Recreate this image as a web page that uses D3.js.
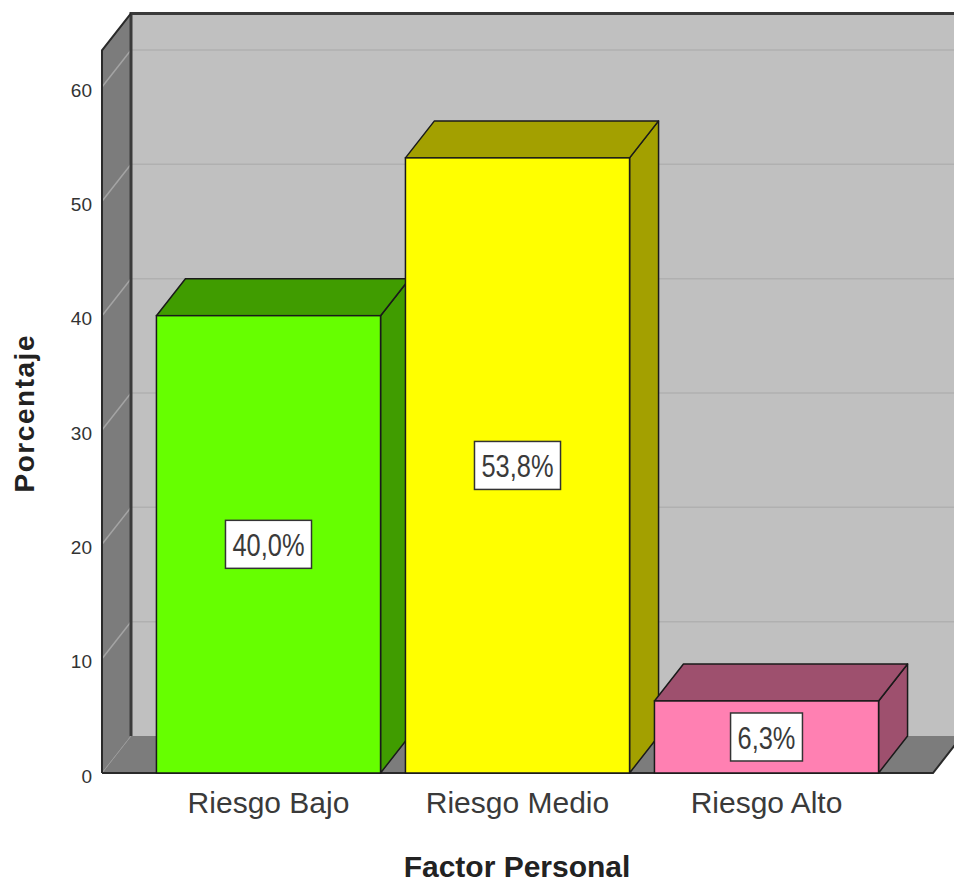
<!DOCTYPE html>
<html>
<head>
<meta charset="utf-8">
<script src="https://cdn.jsdelivr.net/npm/d3@7"></script>
<style>
  html, body { margin: 0; padding: 0; background: #ffffff; }
  svg { display: block; }
  text { font-family: "Liberation Sans", Arial, sans-serif; }
</style>
</head>
<body>
<svg id="chart" width="954" height="882"></svg>
<script>
// ---- data ----
const categories = ["Riesgo Bajo", "Riesgo Medio", "Riesgo Alto"];
const values = [40.0, 53.8, 6.3];
const valueLabels = ["40,0%", "53,8%", "6,3%"];
const yTicks = [0, 10, 20, 30, 40, 50, 60];
const yAxisTop = 63.2;
const frontColors = ["#66ff00", "#ffff00", "#ff80b2"];
const shadeColors = ["#409c00", "#a3a000", "#9e506e"];
const xTitle = "Factor Personal";
const yTitle = "Porcentaje";

// ---- layout ----
const svg = d3.select("#chart");
const depth = { dx: 29, dy: -37 };
const x = d3.scaleBand().domain(categories).range([102, 933]).paddingInner(0.1).paddingOuter(0.2186);
const y = d3.scaleLinear().domain([0, 60]).range([773, 87]);
const x0 = 102, x1 = 933;
const yBase = y(0), yTop = y(yAxisTop);
const line = d3.line();

// back wall
svg.append("path")
  .attr("d", line([[x0 + depth.dx, yTop + depth.dy], [x1 + depth.dx, yTop + depth.dy], [x1 + depth.dx, yBase + depth.dy], [x0 + depth.dx, yBase + depth.dy]]) + "Z")
  .attr("fill", "#c0c0c0");
// side wall
svg.append("path")
  .attr("d", line([[x0, yBase], [x0, yTop], [x0 + depth.dx, yTop + depth.dy], [x0 + depth.dx, yBase + depth.dy]]) + "Z")
  .attr("fill", "#7c7c7c");
// floor
svg.append("path")
  .attr("d", line([[x0, yBase], [x1, yBase], [x1 + depth.dx, yBase + depth.dy], [x0 + depth.dx, yBase + depth.dy]]) + "Z")
  .attr("fill", "#7c7c7c");

// gridlines
const grid = yTicks.filter(t => t > 0);
svg.append("g").selectAll("line").data(grid).join("line")
  .attr("x1", x0 + depth.dx).attr("x2", x1 + depth.dx)
  .attr("y1", d => y(d) + depth.dy).attr("y2", d => y(d) + depth.dy)
  .attr("stroke", "#b0b0b0").attr("stroke-width", 1.5);
svg.append("g").selectAll("line").data(grid).join("line")
  .attr("x1", x0).attr("x2", x0 + depth.dx)
  .attr("y1", d => y(d)).attr("y2", d => y(d) + depth.dy)
  .attr("stroke", "#a4a4a4").attr("stroke-width", 1.5);
// side/floor joint
svg.append("line")
  .attr("x1", x0).attr("y1", yBase).attr("x2", x0 + depth.dx).attr("y2", yBase + depth.dy)
  .attr("stroke", "#999").attr("stroke-width", 1);

// wall edges
svg.append("path")
  .attr("d", line([[x0 + depth.dx, yBase + depth.dy], [x0 + depth.dx, yTop + depth.dy], [x1 + depth.dx + 20, yTop + depth.dy]]))
  .attr("fill", "none").attr("stroke", "#3a3a3a").attr("stroke-width", 3);
svg.append("path")
  .attr("d", line([[x0, yBase], [x0, yTop], [x0 + depth.dx, yTop + depth.dy]]))
  .attr("fill", "none").attr("stroke", "#2a2a2a").attr("stroke-width", 2);
svg.append("path")
  .attr("d", line([[x0, yBase], [x1, yBase], [x1 + depth.dx, yBase + depth.dy]]))
  .attr("fill", "none").attr("stroke", "#2a2a2a").attr("stroke-width", 2);

// bars
const bars = svg.append("g");
categories.forEach((c, i) => {
  const bx = x(c), bw = x.bandwidth(), by = y(values[i]);
  const g = bars.append("g");
  const st = { stroke: "#1a1a1a", w: 1.5 };
  g.append("path")
    .attr("d", line([[bx + bw, yBase], [bx + bw + depth.dx, yBase + depth.dy], [bx + bw + depth.dx, by + depth.dy], [bx + bw, by]]) + "Z")
    .attr("fill", shadeColors[i]).attr("stroke", st.stroke).attr("stroke-width", st.w).attr("stroke-linejoin", "round");
  g.append("path")
    .attr("d", line([[bx, by], [bx + depth.dx, by + depth.dy], [bx + bw + depth.dx, by + depth.dy], [bx + bw, by]]) + "Z")
    .attr("fill", shadeColors[i]).attr("stroke", st.stroke).attr("stroke-width", st.w).attr("stroke-linejoin", "round");
  g.append("rect")
    .attr("x", bx).attr("y", by).attr("width", bw).attr("height", yBase - by)
    .attr("fill", frontColors[i]).attr("stroke", st.stroke).attr("stroke-width", st.w);

  // value label
  const cx = bx + bw / 2, cy = (by + yBase) / 2;
  const sx = 0.82;
  const lg = g.append("g");
  const rect = lg.append("rect");
  const t = lg.append("text")
    .attr("x", cx).attr("y", cy + 1)
    .attr("text-anchor", "middle").attr("dominant-baseline", "central")
    .attr("font-size", 31).attr("fill", "#3a3a3a")
    .attr("transform", `translate(${cx},0) scale(${sx},1) translate(${-cx},0)`)
    .text(valueLabels[i]);
  const tw = t.node().getComputedTextLength() * sx;
  rect.attr("x", cx - tw / 2 - 7).attr("y", cy - 24).attr("width", tw + 14).attr("height", 48)
    .attr("fill", "#ffffff").attr("stroke", "#333").attr("stroke-width", 1.5);
});

// y axis labels
const yAxis = d3.axisLeft(y).tickValues(yTicks).tickSize(0).tickPadding(0).tickFormat(d3.format("d"));
const yg = svg.append("g").attr("transform", "translate(92,3)").call(yAxis);
yg.select(".domain").remove();
yg.selectAll("text").attr("font-size", 19).attr("fill", "#333").attr("font-family", "Liberation Sans, Arial, sans-serif");

// x axis labels
const xAxis = d3.axisBottom(x).tickSize(0).tickPadding(19);
const xg = svg.append("g").attr("transform", `translate(0,${yBase})`).call(xAxis);
xg.select(".domain").remove();
xg.selectAll("text").attr("font-size", 30).attr("fill", "#3a3a3a").attr("font-family", "Liberation Sans, Arial, sans-serif");

// titles
svg.append("text")
  .attr("x", 517).attr("y", 877).attr("text-anchor", "middle")
  .attr("font-size", 30).attr("font-weight", "bold").attr("fill", "#222")
  .text(xTitle);
svg.append("text")
  .attr("transform", "translate(34,414) rotate(-90)").attr("text-anchor", "middle")
  .attr("font-size", 28).attr("font-weight", "bold").attr("fill", "#222")
  .attr("textLength", 157).attr("lengthAdjust", "spacing")
  .text(yTitle);
</script>
</body>
</html>
